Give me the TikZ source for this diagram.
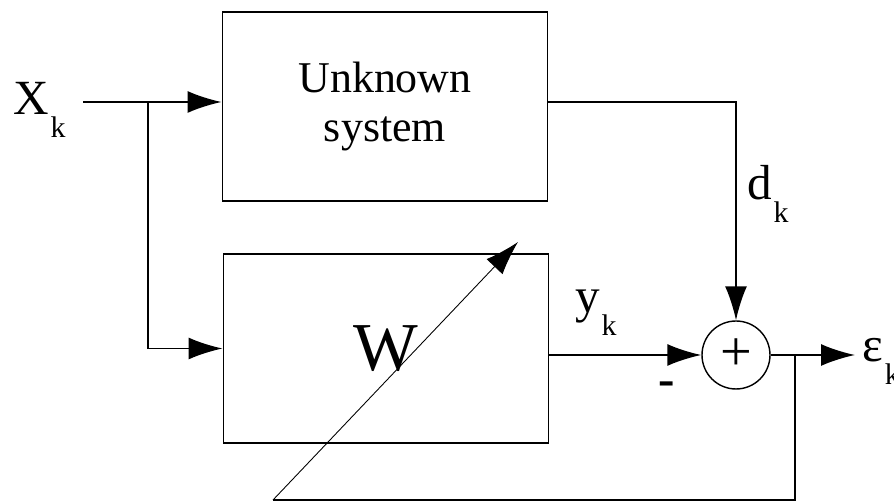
\documentclass[tikz,border=0pt]{standalone}
\usepackage{fontspec}
\setmainfont{Liberation Serif}
\usepackage{tikz}
\usetikzlibrary{arrows.meta}

\newcommand{\sgn}[2]{#1\kern1pt\raisebox{-13pt}{\fontsize{17}{17}\selectfont #2}}

\tikzset{
  blockbox/.style={draw,line width=1.1pt,minimum width=6.5cm,minimum height=3.78cm,inner sep=0pt},
  sumnode/.style={draw,circle,line width=0.8pt,minimum size=1.36cm,inner sep=0pt,font=\fontsize{32}{32}\selectfont},
  wire/.style={line width=1.1pt},
  sig/.style={line width=1.1pt,-{Latex[length=0.68cm,width=0.44cm]}},
  adjline/.style={line width=0.5pt,-{Latex[length=0.68cm,width=0.44cm]}},
  lbl/.style={font=\fontsize{28}{28}\selectfont,inner sep=0pt,anchor=base west},
}

\begin{document}
\begin{tikzpicture}[x=0.02cm,y=-0.02cm]
        \useasboundingbox (0,0) rectangle (894,502);
        % blocks
        \node[blockbox,align=center,font=\fontsize{25}{28}\selectfont] (plant) at (385,106.5) {Unknown\\system};
        \node[blockbox,font=\fontsize{39}{39}\selectfont] (filt) at (386,348.5) {W};
        \node[sumnode] (sum) at (736,355) {+};

        \coordinate (xin) at (83,102);
        \coordinate (split) at (148,102);
        \coordinate (eout) at (855,355);
        \coordinate (tap) at (795,355);
        \coordinate (fb) at (273,500);
        \coordinate (adj) at (518,242);

        % signals
        \draw[wire] (xin)--(split);
        \draw[sig] (split)--(plant.west |- split);
        \draw[sig] (split) |- (filt.west);
        \draw[sig] (plant.east |- xin) -| (sum.north);
        \draw[sig] (filt.east |- sum.west)--(sum.west);
        \draw[sig] (sum.east)--(eout);
        \draw[wire] (tap) |- (fb);
        \draw[adjline] (fb)--(adj);

        % labels
        \node[lbl] (xlbl) at (13,115) {\sgn{X}{k}};
        \node[lbl] (dlbl) at (747,200) {\sgn{d}{k}};
        \node[lbl] (ylbl) at (575,313) {\sgn{y}{k}};
        \node[lbl] (elbl) at (862,362) {\sgn{ε}{k}};
        \node[lbl,anchor=center,font=\fontsize{28}{28}\selectfont\bfseries] (minus) at (667,389) {-};
\end{tikzpicture}
\end{document}
